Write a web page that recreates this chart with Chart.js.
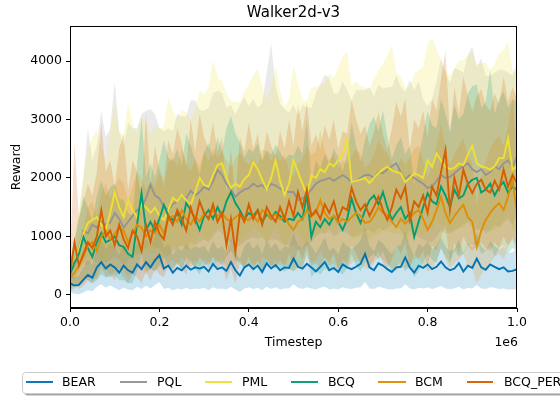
<!DOCTYPE html>
<html>
<head>
<meta charset="utf-8">
<script src="https://cdn.jsdelivr.net/npm/chart.js@4"></script>
<style>
  html, body { margin: 0; padding: 0; background: #fff; }
  canvas { display: block; }
</style>
</head>
<body>
<canvas id="chart" width="560" height="396"></canvas>
<script>
// evaluation timesteps (every 10k steps)
const steps = Array.from({length: 101}, (_, i) => i * 10000);

const names = ['BEAR', 'PQL', 'PML', 'BCQ', 'BCM', 'BCQ_PER'];
const colors = ['#0173b2', '#949494', '#ece133', '#029e73', '#de8f05', '#d55e00'];

// mean curves, upward spread of the shaded band, and lower edge of the band
const bearMean = [200,160,170,260,340,290,470,560,450,520,
  470,380,500,420,380,520,440,560,470,590,
  680,450,500,380,460,420,500,430,470,450,
  480,400,530,440,470,410,560,420,330,470,
  520,440,500,390,540,450,510,420,470,460,
  620,480,450,530,470,400,480,560,420,460,
  390,520,470,440,480,530,700,470,420,540,
  500,440,390,470,480,640,470,380,500,460,
  520,440,480,570,470,420,450,540,400,500,
  460,620,470,430,520,480,440,470,400,410,
  440];
const bearUp = [150,140,160,220,260,230,330,380,330,360,
  350,300,380,330,300,380,340,400,360,420,
  460,350,380,300,350,330,380,340,360,350,
  360,320,400,340,360,320,420,330,280,360,
  390,340,380,310,400,350,380,330,360,350,
  440,360,350,400,360,310,360,420,330,350,
  300,390,360,340,360,400,480,360,320,400,
  380,340,300,360,370,460,360,290,380,350,
  390,340,360,420,360,320,340,400,310,380,
  350,450,360,330,390,360,340,360,310,320,
  340];
const bearLow = [50,20,10,40,80,60,140,180,120,160,
  120,80,120,90,80,140,100,160,110,170,
  220,100,120,80,110,90,120,90,110,100,
  120,80,130,100,110,90,140,90,50,110,
  130,100,120,80,140,100,130,90,110,110,
  180,120,100,130,110,90,120,140,90,110,
  90,130,110,100,120,130,220,110,100,140,
  120,100,90,110,110,180,110,90,120,110,
  130,100,120,150,110,100,110,140,90,120,
  110,170,110,100,130,120,100,110,90,90,
  100];

const pqlMean = [380,500,750,1100,1050,1200,1150,1250,1200,1240,
  1400,1300,1150,1250,1350,1450,1500,1650,1880,1700,
  1650,1500,1450,1550,1600,1700,1650,1780,1700,1760,
  1850,1800,1950,2140,2050,1900,1800,1680,1750,1800,
  1830,1900,1850,1880,1800,1900,1870,1820,1780,1760,
  1760,1620,1650,1710,1800,1900,1950,1970,2000,1950,
  2000,2050,2000,1930,1950,2000,2050,2050,2000,2100,
  2080,2150,2200,2250,2100,1970,2050,2000,1950,1900,
  1830,1850,1950,2050,2000,2020,2080,2150,2200,2250,
  2150,2100,2150,2050,2100,2200,2150,2250,2300,2200,
  2360];
const pqlUp = [200,350,600,900,1800,1100,1400,1900,1500,1600,
  2250,1500,1400,1700,1500,1400,1600,1500,1300,1400,
  1200,1300,1400,1250,1500,1350,1400,1550,1630,1400,
  1300,1400,1500,1350,1400,1300,1450,1400,1500,1580,
  1400,1450,1350,1400,2000,2400,1700,1450,1400,1350,
  1500,1450,1600,1500,1400,1550,1650,1800,1700,1500,
  1450,1600,1500,1400,1550,1500,1450,1500,1400,1500,
  1450,1400,1350,1500,1450,1500,1620,1500,1700,1450,
  1400,1500,1700,2000,1800,1600,1800,1700,1600,1850,
  2100,1800,1900,1700,1650,1600,1700,1600,1500,1550,
  1600];
const pqlLow = [250,300,400,550,500,600,550,600,550,600,
  650,600,500,600,650,700,750,800,900,800,
  800,700,650,750,800,850,800,900,850,900,
  950,900,1000,1100,1050,950,900,800,850,900,
  950,1000,950,1000,900,950,950,900,850,850,
  850,750,800,850,900,1000,1050,1050,1100,1000,
  1050,1100,1050,1000,1000,1050,1100,1100,1050,1150,
  1100,1150,1200,1250,1100,1000,1100,1050,1000,950,
  900,900,1000,1100,1050,1050,1100,1150,1200,1250,
  1150,1100,1150,1050,1100,1200,1150,1250,1300,1200,
  1350];

const pmlMean = [380,550,770,1050,1230,1280,1330,1200,1110,1400,
  1760,1500,1330,1620,1450,1330,1540,1500,1400,1490,
  1350,1280,1450,1660,1600,1710,1620,1540,1750,2000,
  1880,1850,2050,2220,2250,2000,1830,1900,1850,1980,
  2050,2270,2150,1970,1800,2000,2300,1950,1710,1900,
  2300,2100,1900,1710,2050,2000,2150,2100,2250,2200,
  2300,2400,2670,1930,1950,1970,2000,1910,2000,2080,
  2150,2190,2130,2100,2080,1930,2000,2080,2050,2000,
  2300,2190,2420,2300,2190,2150,2170,2250,2220,2400,
  2550,2250,2200,2180,2140,2200,2340,2340,2680,2140,
  2200];
const pmlUp = [200,400,700,1000,1300,1400,1500,1300,1200,1400,
  1500,1300,1400,1660,1500,1400,1500,1450,1350,1400,
  1500,1600,1920,1500,1400,1450,1500,1450,1400,1500,
  1550,1700,1970,1500,1400,1450,1500,1400,1450,1500,
  1550,1500,1710,1600,1500,1550,1600,1550,1500,1450,
  1630,1500,1450,1600,1500,1550,1450,1500,1550,1500,
  1600,1670,1500,1650,1700,1600,1550,1600,1700,1750,
  1800,1900,2140,1700,1650,1600,1550,1700,1800,1900,
  2000,2190,1800,1700,1650,1600,1700,1750,1800,1700,
  1600,1700,1750,1800,1700,1750,1800,1850,1640,1700,
  1600];
const pmlLow = [250,300,400,550,650,650,700,600,550,700,
  900,750,650,800,700,650,750,750,700,750,
  650,600,700,850,800,850,800,750,900,1050,
  950,950,1050,1150,1150,1000,900,950,900,1000,
  1050,1150,1100,1000,900,1000,1200,1000,850,950,
  1200,1100,950,850,1050,1000,1100,1050,1150,1100,
  1200,1250,1400,950,1000,1000,1000,950,1000,1050,
  1100,1100,1050,1050,1050,950,1000,1050,1050,1000,
  1200,1100,1250,1200,1100,1100,1100,1150,1150,1250,
  1350,1150,1100,1100,1100,1100,1200,1200,1450,1100,
  1100];

const bcqMean = [350,550,700,990,800,650,900,1060,900,940,
  1000,850,820,700,650,1200,1740,1110,1250,1100,
  1300,1540,1350,1280,1400,1200,1570,1450,1300,1110,
  1350,1450,1300,1500,1350,1600,1760,1570,1450,1300,
  1400,1350,1450,1250,1380,1300,1420,1350,1250,1300,
  1280,1400,1300,1710,990,1250,1160,1300,1200,1350,
  1250,1110,1300,1650,1400,1230,1450,1620,1700,1550,
  1760,1500,1280,1400,1500,1300,1400,990,1250,1500,
  1740,1600,1550,1850,1700,1500,1800,1650,1700,1900,
  1970,2000,1750,1800,1900,1700,1850,1930,1750,1850,
  1800];
const bcqUp = [200,400,600,700,700,600,800,900,800,900,
  900,800,800,700,700,1000,1300,900,1000,900,
  1000,1100,1000,1000,1100,1000,1200,1100,1000,950,
  1100,1150,1050,1200,1100,1250,1300,1200,1150,1050,
  1100,1100,1150,1050,1100,1100,1150,1100,1050,1100,
  1100,1150,1100,1300,900,1050,1000,1100,1050,1150,
  1100,1000,1100,1300,1150,1050,1200,1300,1350,1250,
  1400,1200,1050,1150,1200,1100,1150,900,1100,1250,
  1400,1300,1300,1500,1400,1300,1450,1350,1400,1550,
  1600,1600,1450,1500,1960,1400,1500,1550,1450,1500,
  1500];
const bcqLow = [100,150,200,300,250,200,250,350,300,300,
  350,250,250,200,200,400,700,400,450,400,
  500,650,500,450,550,400,650,550,450,350,
  500,550,450,600,500,650,750,600,550,450,
  500,450,550,400,500,450,500,450,400,450,
  400,500,450,750,300,400,350,450,400,500,
  400,350,450,700,500,400,550,650,700,600,
  750,550,400,500,550,400,500,300,400,550,
  700,600,550,800,650,550,750,650,700,850,
  850,900,700,750,850,650,800,850,700,800,
  750];

const bcmMean = [300,380,500,650,850,900,750,1000,1100,950,
  1050,1150,1100,900,1050,1200,1150,1000,1100,1050,
  1200,1050,1300,1350,1250,1450,1300,1200,1350,1250,
  1400,1300,1450,1350,1400,1300,1250,1330,1380,1300,
  1280,1350,1250,1450,1400,1300,1380,1290,1350,1200,
  1110,1250,1300,1450,1350,1400,1620,1400,1300,1350,
  1230,1300,1250,1330,1400,1350,1230,1250,1350,1500,
  1400,1370,1250,1160,1300,1220,1300,1400,1450,1300,
  1110,1250,1450,1680,1400,1230,1350,1450,1540,1330,
  1250,820,1100,1280,1400,1500,1570,1450,1680,1970,
  1400];
const bcmUp = [200,300,400,500,650,700,600,750,800,700,
  800,850,800,700,800,900,850,800,850,800,
  900,800,950,1000,950,1050,950,900,1000,950,
  1050,1000,1050,1000,1050,1000,950,1000,1050,1000,
  950,1000,950,1050,1050,1000,1050,1000,1050,950,
  900,1000,1000,1100,1050,1050,1200,1050,1000,1050,
  950,1000,1000,1050,1100,1050,950,1000,1050,1150,
  1100,1050,1000,950,1050,1000,1050,1100,1100,1000,
  900,1000,1100,1250,1100,1000,1050,1100,1150,1050,
  1000,700,900,1000,1100,1150,1150,1100,1200,1400,
  1100];
const bcmLow = [50,100,150,200,300,350,250,400,450,350,
  400,450,450,300,400,500,450,350,450,400,
  500,400,550,600,500,650,550,450,600,500,
  600,550,650,550,600,500,500,550,600,500,
  500,550,450,650,600,500,600,500,550,450,
  400,450,500,650,550,600,750,600,500,550,
  450,500,450,550,600,550,450,450,550,650,
  600,550,450,400,500,450,500,600,650,500,
  400,450,600,800,600,450,550,600,700,500,
  450,200,350,450,550,650,700,600,800,1000,
  550];

const bcqPerMean = [350,900,500,700,900,800,1000,1450,1000,1100,
  850,1200,950,800,1100,1000,750,1200,900,1250,
  1050,950,1350,1200,1450,1300,1100,1500,1250,1600,
  1400,1300,1550,1250,1400,850,1300,735,1400,1250,
  1550,1300,1450,1200,1500,1350,1250,1500,1300,1600,
  1350,1760,1500,1800,1350,1450,1300,1550,1400,1600,
  1300,1500,1450,1830,1600,1450,1550,1350,1500,1680,
  1450,1280,1500,1800,1650,1850,1280,1600,1500,1700,
  1400,1850,1700,2100,2480,1450,2000,1700,2140,1900,
  1740,1900,1970,1800,1750,1950,1800,2140,1850,2050,
  1910];
const bcqPerUp = [250,1700,800,900,1000,900,1100,1500,1100,1200,
  1000,1300,1800,1000,1200,1100,900,1900,1000,1300,
  1100,1000,1300,1200,1400,1300,1100,1500,1200,1500,
  1300,1200,1400,1200,1300,900,1200,900,1300,1200,
  1400,1200,1300,1100,1300,1200,1100,1300,1200,1400,
  1200,1500,1300,1500,1200,1300,1200,1350,1250,1400,
  1200,1300,1300,1500,1400,1300,1350,1200,1300,1450,
  1300,1200,1350,1500,1400,1500,1200,1400,1350,1450,
  1300,1500,1450,1600,1700,1300,1550,1400,1600,1500,
  1400,1500,1550,1450,1400,1500,1450,1600,1450,1500,
  1450];
const bcqPerLow = [50,200,100,150,250,200,300,500,300,350,
  250,400,300,200,350,300,200,400,250,450,
  350,300,500,400,550,450,350,600,450,650,
  550,450,650,450,550,250,450,200,550,450,
  650,450,600,400,600,500,450,600,450,700,
  500,800,600,850,500,550,450,650,550,700,
  450,600,550,850,700,550,650,500,600,750,
  550,450,600,850,700,900,450,700,600,750,
  500,850,750,1000,1200,550,900,700,1000,850,
  750,850,900,800,750,900,800,1000,850,950,
  850];

const means = [bearMean, pqlMean, pmlMean, bcqMean, bcmMean, bcqPerMean];
const ups = [bearUp, pqlUp, pmlUp, bcqUp, bcmUp, bcqPerUp];
const lows = [bearLow, pqlLow, pmlLow, bcqLow, bcmLow, bcqPerLow];

const yTicks = [0, 1000, 2000, 3000, 4000];
const xTicks = [0, 200000, 400000, 600000, 800000, 1000000];

const FONT = '"DejaVu Sans", sans-serif';

function hexA(hex, a) {
  const n = parseInt(hex.slice(1), 16);
  return `rgba(${n >> 16},${(n >> 8) & 255},${n & 255},${a})`;
}
function pts(arr) { return arr.map((v, i) => ({x: steps[i], y: v})); }

const datasets = [];
names.forEach((name, k) => {
  const m = means[k];
  datasets.push({
    label: name + ' lo', data: pts(lows[k]),
    borderWidth: 0, pointRadius: 0, fill: false, order: 30 - k
  });
  datasets.push({
    label: name + ' hi', data: pts(m.map((v, i) => v + ups[k][i])),
    borderWidth: 0, pointRadius: 0, fill: '-1',
    backgroundColor: hexA(colors[k], 0.2), order: 30 - k
  });
  datasets.push({
    label: name, data: pts(m), borderColor: colors[k], borderWidth: 1.9,
    pointRadius: 0, fill: false, tension: 0, order: 10 - k
  });
});

const decor = {
  id: 'decor',
  afterDraw(chart) {
    const {ctx, chartArea: a} = chart;
    ctx.save();
    ctx.strokeStyle = '#000';
    ctx.lineWidth = 1;
    ctx.strokeRect(a.left + 0.5, a.top + 0.5, a.right - a.left - 1, a.bottom - a.top - 1);

    ctx.fillStyle = '#000';
    ctx.textAlign = 'center';
    ctx.textBaseline = 'middle';
    ctx.font = '15px ' + FONT;
    ctx.fillText('Walker2d-v3', (a.left + a.right) / 2, 13);

    ctx.font = '12.5px ' + FONT;
    ctx.fillText('Timestep', (a.left + a.right) / 2, 343);
    ctx.textAlign = 'right';
    ctx.fillText('1e6', a.right + 1, 343);

    ctx.save();
    ctx.translate(17, (a.top + a.bottom) / 2);
    ctx.rotate(-Math.PI / 2);
    ctx.textAlign = 'center';
    ctx.fillText('Reward', 0, 0);
    ctx.restore();

    // legend
    ctx.fillStyle = 'rgba(0,0,0,0.35)';
    ctx.beginPath();
    ctx.roundRect(24.5, 374.5, 560, 21, 3);
    ctx.fill();
    ctx.fillStyle = '#fff';
    ctx.strokeStyle = '#cccccc';
    ctx.beginPath();
    ctx.roundRect(22.5, 372.5, 560, 21, 3);
    ctx.fill();
    ctx.stroke();

    const slots = [[26, 53, 62], [120, 147, 157], [205, 232, 242], [291, 318, 328], [378, 406, 415], [467, 493, 504]];
    ctx.textAlign = 'left';
    ctx.font = '12.5px ' + FONT;
    names.forEach((name, k) => {
      const [x1, x2, tx] = slots[k];
      ctx.strokeStyle = colors[k];
      ctx.lineWidth = 1.9;
      ctx.beginPath();
      ctx.moveTo(x1, 382);
      ctx.lineTo(x2, 382);
      ctx.stroke();
      ctx.fillStyle = '#000';
      ctx.fillText(name, tx, 382.5);
    });
    ctx.restore();
  }
};

new Chart(document.getElementById('chart').getContext('2d'), {
  type: 'line',
  data: { datasets },
  options: {
    responsive: false,
    animation: false,
    devicePixelRatio: 1,
    layout: { padding: { top: 26, right: 43, left: 0, bottom: 0 } },
    plugins: { legend: { display: false }, title: { display: false }, tooltip: { enabled: false } },
    scales: {
      x: {
        type: 'linear', min: 0, max: 1000000,
        afterFit(s) { s.height = 88; },
        afterBuildTicks(s) { s.ticks = xTicks.map(v => ({value: v})); },
        ticks: {
          color: '#000', font: {family: FONT, size: 12.5}, padding: 3, maxRotation: 0,
          callback: v => (v / 1e6).toFixed(1)
        },
        grid: { display: true, drawOnChartArea: false, drawTicks: true, tickLength: 4, color: '#000' },
        border: { display: true, color: '#000', width: 1 }
      },
      y: {
        type: 'linear', min: -225, max: 4600,
        afterFit(s) { s.width = 70; },
        afterBuildTicks(s) { s.ticks = yTicks.map(v => ({value: v})); },
        ticks: { color: '#000', font: {family: FONT, size: 12.5}, padding: 4, callback: v => String(v) },
        grid: { display: true, drawOnChartArea: false, drawTicks: true, tickLength: 4, color: '#000' },
        border: { display: true, color: '#000', width: 1 }
      }
    }
  },
  plugins: [decor]
});
</script>
</body>
</html>
